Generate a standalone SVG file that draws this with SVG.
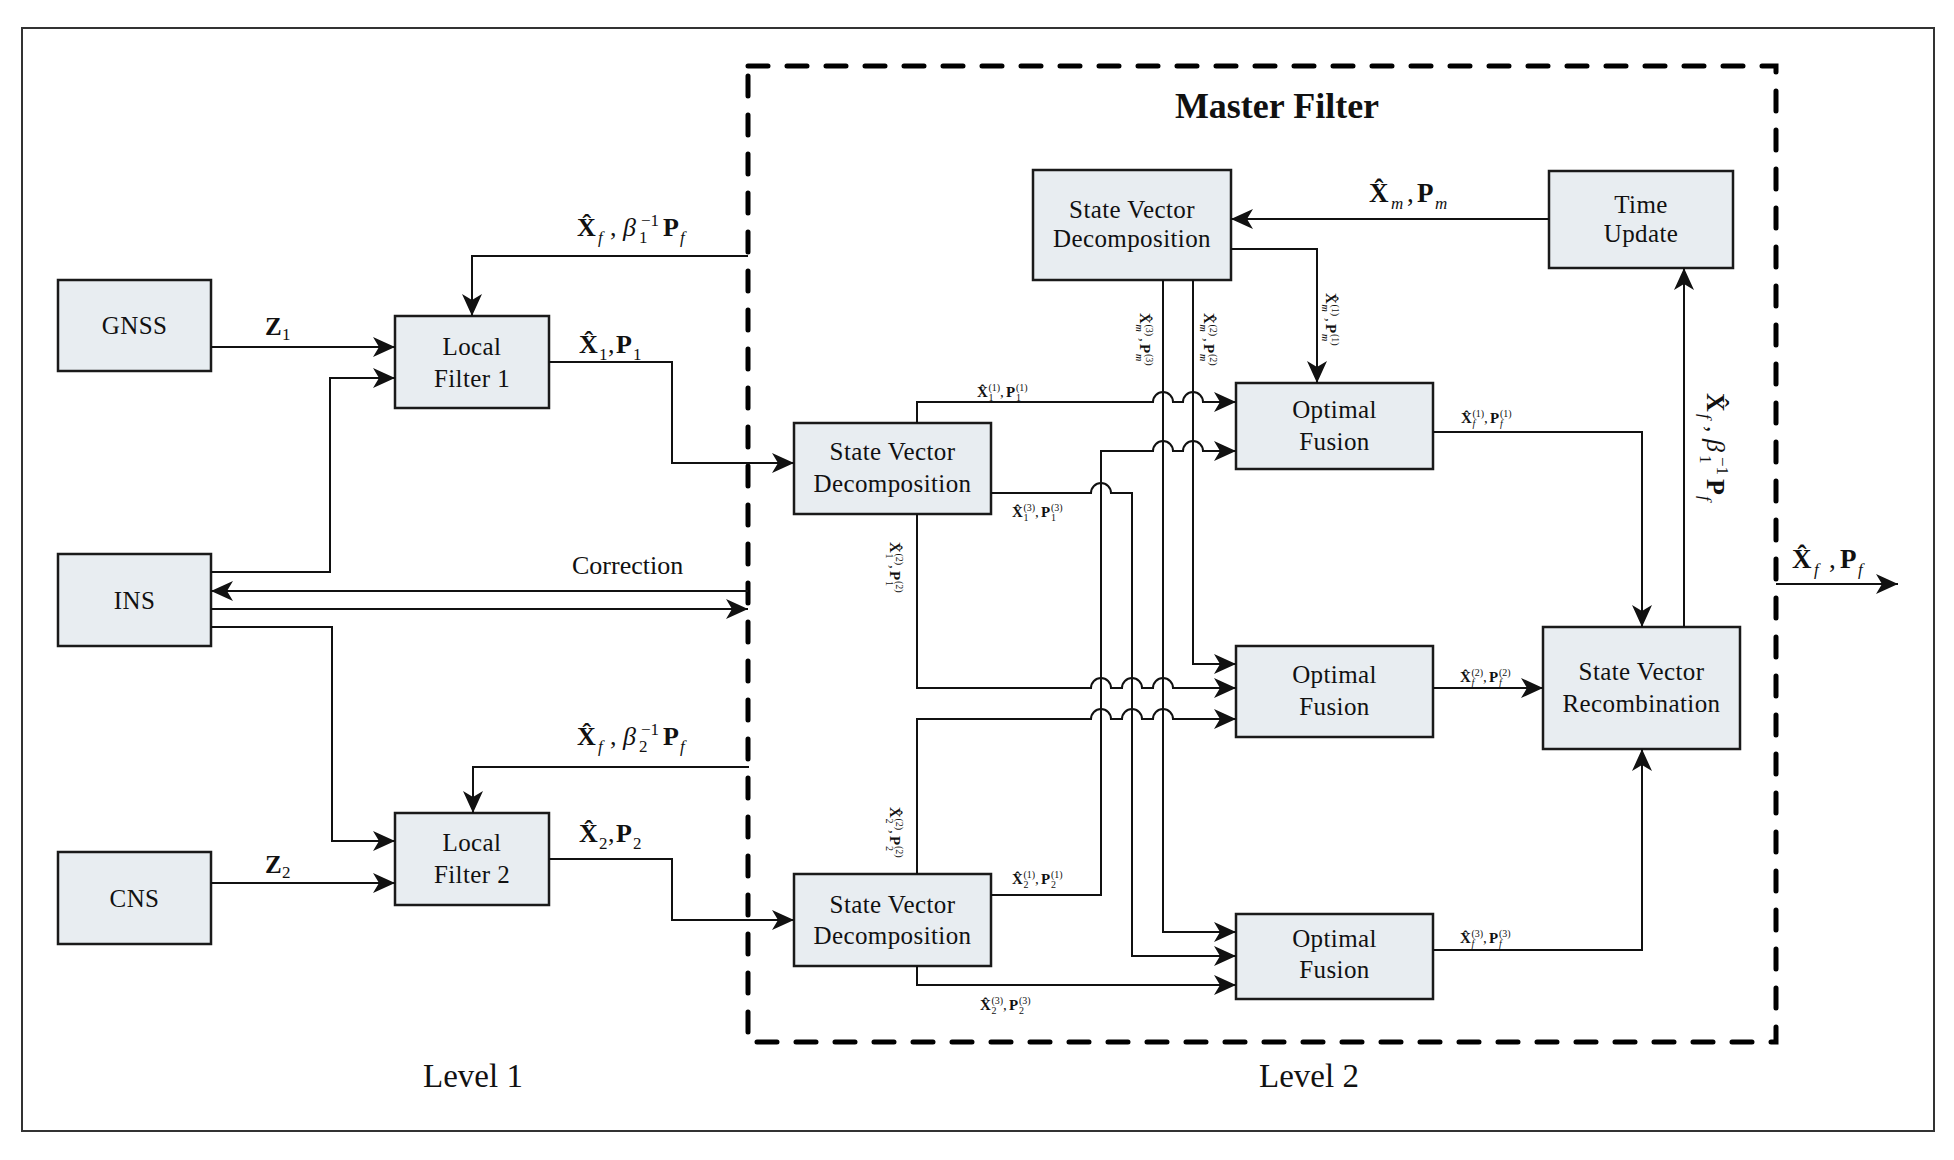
<svg xmlns="http://www.w3.org/2000/svg" width="1954" height="1160" viewBox="0 0 1954 1160">
<defs>
<style>
.box{fill:#E8EDF1;stroke:#1a1a1a;stroke-width:2.5}
.t{font-family:"Liberation Serif","Times New Roman",serif;font-size:25px;text-anchor:middle;fill:#111;letter-spacing:0.4px}
.m{font-family:"Liberation Serif","Times New Roman",serif;fill:#111}
.b{font-weight:bold}
.i{font-style:italic}
.ln{fill:none;stroke:#111;stroke-width:2}
.a{marker-end:url(#ah)}
.s17{font-size:17px}
.s10{font-size:10px}
</style>
<marker id="ah" markerUnits="userSpaceOnUse" markerWidth="24" markerHeight="24" viewBox="-23 -11 24 22" refX="0" refY="0" orient="auto">
<path d="M0,0 L-22,-10 L-16,0 L-22,10 Z" fill="#111"/>
</marker>
</defs>
<rect width="1954" height="1160" fill="#fff"/>
<rect id="frame" x="22" y="28" width="1912" height="1103" fill="none" stroke="#333" stroke-width="2"/>
<rect id="master" x="748" y="66" width="1028" height="976" fill="none" stroke="#000" stroke-width="5" stroke-dasharray="20 19" stroke-linecap="round"/>
<text class="m b" x="1277" y="118" font-size="36" text-anchor="middle">Master Filter</text>
<text class="m" x="473" y="1087" font-size="33" text-anchor="middle">Level 1</text>
<text class="m" x="1309" y="1087" font-size="33" text-anchor="middle">Level 2</text>

<g id="gnss"><rect class="box" x="58" y="280" width="153" height="91"/><text class="t" x="134.5" y="334">GNSS</text></g>
<g id="ins"><rect class="box" x="58" y="554" width="153" height="92"/><text class="t" x="134.5" y="609">INS</text></g>
<g id="cns"><rect class="box" x="58" y="852" width="153" height="92"/><text class="t" x="134.5" y="907">CNS</text></g>
<g id="lf1"><rect class="box" x="395" y="316" width="154" height="92"/><text class="t" x="472" y="355">Local</text><text class="t" x="472" y="387">Filter 1</text></g>
<g id="lf2"><rect class="box" x="395" y="813" width="154" height="92"/><text class="t" x="472" y="851">Local</text><text class="t" x="472" y="883">Filter 2</text></g>
<g id="svd1"><rect class="box" x="794" y="423" width="197" height="91"/><text class="t" x="892.5" y="460">State Vector</text><text class="t" x="892.5" y="492">Decomposition</text></g>
<g id="svdm"><rect class="box" x="1033" y="170" width="198" height="110"/><text class="t" x="1132" y="218">State Vector</text><text class="t" x="1132" y="247">Decomposition</text></g>
<g id="svd2"><rect class="box" x="794" y="874" width="197" height="92"/><text class="t" x="892.5" y="913">State Vector</text><text class="t" x="892.5" y="944">Decomposition</text></g>
<g id="tu"><rect class="box" x="1549" y="171" width="184" height="97"/><text class="t" x="1641" y="213">Time</text><text class="t" x="1641" y="242">Update</text></g>
<g id="of1"><rect class="box" x="1236" y="383" width="197" height="86"/><text class="t" x="1334.5" y="418">Optimal</text><text class="t" x="1334.5" y="450">Fusion</text></g>
<g id="of2"><rect class="box" x="1236" y="646" width="197" height="91"/><text class="t" x="1334.5" y="683">Optimal</text><text class="t" x="1334.5" y="715">Fusion</text></g>
<g id="of3"><rect class="box" x="1236" y="914" width="197" height="85"/><text class="t" x="1334.5" y="947">Optimal</text><text class="t" x="1334.5" y="978">Fusion</text></g>
<g id="svr"><rect class="box" x="1543" y="627" width="197" height="122"/><text class="t" x="1641.5" y="680">State Vector</text><text class="t" x="1641.5" y="712">Recombination</text></g>

<g id="connectors">
<path class="ln a" d="M211,347 H395"/>
<path class="ln a" d="M211,572 H330 V378 H395"/>
<path class="ln a" d="M748,256 H472 V316"/>
<path class="ln a" d="M549,362 H672 V463 H794"/>
<path class="ln a" d="M748,591 H211"/>
<path class="ln a" d="M211,609 H748"/>
<path class="ln a" d="M211,627 H332 V841 H395"/>
<path class="ln a" d="M211,883 H395"/>
<path class="ln a" d="M749,767 H473 V813"/>
<path class="ln a" d="M549,859 H672 V920 H794"/>
<path class="ln a" d="M1549,219 H1231"/>
<path class="ln a" d="M1231,249 H1317 V383"/>
<path class="ln a" d="M1163,280 V932 H1236"/>
<path class="ln a" d="M1193,280 V664 H1236"/>
<path class="ln a" d="M917,423 V402 H1153 A10,10 0 0 1 1173,402 H1183 A10,10 0 0 1 1203,402 H1236"/>
<path class="ln a" d="M991,895 H1101 V451 H1153 A10,10 0 0 1 1173,451 H1183 A10,10 0 0 1 1203,451 H1236"/>
<path class="ln a" d="M991,493 H1091 A10,10 0 0 1 1111,493 H1132 V956 H1236"/>
<path class="ln a" d="M917,514 V688 H1091 A10,10 0 0 1 1111,688 H1122 A10,10 0 0 1 1142,688 H1153 A10,10 0 0 1 1173,688 H1236"/>
<path class="ln a" d="M917,874 V719 H1091 A10,10 0 0 1 1111,719 H1122 A10,10 0 0 1 1142,719 H1153 A10,10 0 0 1 1173,719 H1236"/>
<path class="ln a" d="M917,966 V985 H1236"/>
<path class="ln a" d="M1433,432 H1642 V627"/>
<path class="ln a" d="M1433,688 H1543"/>
<path class="ln a" d="M1433,950 H1642 V749"/>
<path class="ln a" d="M1684,627 V268"/>
<path class="ln a" d="M1776,584 H1898"/>
</g>

<g id="labels">
<text class="m" x="572" y="574" font-size="26">Correction</text>
<text class="m" font-size="25" y="335"><tspan class="b" x="265">Z</tspan><tspan class="s17" x="282" y="340">1</tspan></text>
<text class="m" font-size="25" y="873"><tspan class="b" x="265">Z</tspan><tspan class="s17" x="282" y="878">2</tspan></text>

<g transform="translate(577,236)"><text class="m" font-size="26"><tspan class="b" x="0" y="0">X&#x302;</tspan><tspan class="i s17" x="21" y="7">f</tspan><tspan x="33" y="0">,</tspan><tspan class="i" x="46" y="0">β</tspan><tspan class="s17" x="62" y="7">1</tspan><tspan class="s17" x="64" y="-10">−1</tspan><tspan class="b" x="86" y="0">P</tspan><tspan class="i s17" x="103" y="7">f</tspan></text></g>
<g transform="translate(577,745)"><text class="m" font-size="26"><tspan class="b" x="0" y="0">X&#x302;</tspan><tspan class="i s17" x="21" y="7">f</tspan><tspan x="33" y="0">,</tspan><tspan class="i" x="46" y="0">β</tspan><tspan class="s17" x="62" y="7">2</tspan><tspan class="s17" x="64" y="-10">−1</tspan><tspan class="b" x="86" y="0">P</tspan><tspan class="i s17" x="103" y="7">f</tspan></text></g>
<g transform="translate(1707,393) rotate(90)"><text class="m" font-size="26"><tspan class="b" x="0" y="0">X&#x302;</tspan><tspan class="i s17" x="21" y="7">f</tspan><tspan x="33" y="0">,</tspan><tspan class="i" x="46" y="0">β</tspan><tspan class="s17" x="62" y="7">1</tspan><tspan class="s17" x="64" y="-10">−1</tspan><tspan class="b" x="86" y="0">P</tspan><tspan class="i s17" x="103" y="7">f</tspan></text></g>

<g transform="translate(579,353)"><text class="m" font-size="26"><tspan class="b" x="0" y="0">X&#x302;</tspan><tspan class="s17" x="20" y="7">1</tspan><tspan x="29" y="0">,</tspan><tspan class="b" x="37" y="0">P</tspan><tspan class="s17" x="54" y="7">1</tspan></text></g>
<g transform="translate(579,842)"><text class="m" font-size="26"><tspan class="b" x="0" y="0">X&#x302;</tspan><tspan class="s17" x="20" y="7">2</tspan><tspan x="29" y="0">,</tspan><tspan class="b" x="37" y="0">P</tspan><tspan class="s17" x="54" y="7">2</tspan></text></g>

<g transform="translate(1369,202)"><text class="m" font-size="27"><tspan class="b" x="0" y="0">X&#x302;</tspan><tspan class="i s17" x="22" y="7">m</tspan><tspan x="38" y="0">,</tspan><tspan class="b" x="48" y="0">P</tspan><tspan class="i s17" x="66" y="7">m</tspan></text></g>
<g transform="translate(1792,568)"><text class="m" font-size="27"><tspan class="b" x="0" y="0">X&#x302;</tspan><tspan class="i s17" x="22" y="7">f</tspan><tspan x="37" y="0">,</tspan><tspan class="b" x="48" y="0">P</tspan><tspan class="i s17" x="66" y="7">f</tspan></text></g>

<g transform="translate(977,397)"><text class="m" font-size="15"><tspan class="b" x="0" y="0">X&#x302;</tspan><tspan class="s10" x="11.5" y="4">1</tspan><tspan class="s10" x="11.5" y="-6">(1)</tspan><tspan x="23" y="0">,</tspan><tspan class="b" x="29" y="0">P</tspan><tspan class="s10" x="39" y="4">1</tspan><tspan class="s10" x="39" y="-6">(1)</tspan></text></g>
<g transform="translate(1012,517)"><text class="m" font-size="15"><tspan class="b" x="0" y="0">X&#x302;</tspan><tspan class="s10" x="11.5" y="4">1</tspan><tspan class="s10" x="11.5" y="-6">(3)</tspan><tspan x="23" y="0">,</tspan><tspan class="b" x="29" y="0">P</tspan><tspan class="s10" x="39" y="4">1</tspan><tspan class="s10" x="39" y="-6">(3)</tspan></text></g>
<g transform="translate(1012,884)"><text class="m" font-size="15"><tspan class="b" x="0" y="0">X&#x302;</tspan><tspan class="s10" x="11.5" y="4">2</tspan><tspan class="s10" x="11.5" y="-6">(1)</tspan><tspan x="23" y="0">,</tspan><tspan class="b" x="29" y="0">P</tspan><tspan class="s10" x="39" y="4">2</tspan><tspan class="s10" x="39" y="-6">(1)</tspan></text></g>
<g transform="translate(980,1010)"><text class="m" font-size="15"><tspan class="b" x="0" y="0">X&#x302;</tspan><tspan class="s10" x="11.5" y="4">2</tspan><tspan class="s10" x="11.5" y="-6">(3)</tspan><tspan x="23" y="0">,</tspan><tspan class="b" x="29" y="0">P</tspan><tspan class="s10" x="39" y="4">2</tspan><tspan class="s10" x="39" y="-6">(3)</tspan></text></g>
<g transform="translate(1461,423)"><text class="m" font-size="15"><tspan class="b" x="0" y="0">X&#x302;</tspan><tspan class="i s10" x="11.5" y="4">f</tspan><tspan class="s10" x="11.5" y="-6">(1)</tspan><tspan x="23" y="0">,</tspan><tspan class="b" x="29" y="0">P</tspan><tspan class="i s10" x="39" y="4">f</tspan><tspan class="s10" x="39" y="-6">(1)</tspan></text></g>
<g transform="translate(1460,682)"><text class="m" font-size="15"><tspan class="b" x="0" y="0">X&#x302;</tspan><tspan class="i s10" x="11.5" y="4">f</tspan><tspan class="s10" x="11.5" y="-6">(2)</tspan><tspan x="23" y="0">,</tspan><tspan class="b" x="29" y="0">P</tspan><tspan class="i s10" x="39" y="4">f</tspan><tspan class="s10" x="39" y="-6">(2)</tspan></text></g>
<g transform="translate(1460,943)"><text class="m" font-size="15"><tspan class="b" x="0" y="0">X&#x302;</tspan><tspan class="i s10" x="11.5" y="4">f</tspan><tspan class="s10" x="11.5" y="-6">(3)</tspan><tspan x="23" y="0">,</tspan><tspan class="b" x="29" y="0">P</tspan><tspan class="i s10" x="39" y="4">f</tspan><tspan class="s10" x="39" y="-6">(3)</tspan></text></g>

<g transform="translate(1326,293) rotate(90)"><text class="m" font-size="15"><tspan class="b" x="0" y="0">X&#x302;</tspan><tspan class="i s10" x="11.5" y="4">m</tspan><tspan class="s10" x="11.5" y="-6">(1)</tspan><tspan x="25" y="0">,</tspan><tspan class="b" x="31" y="0">P</tspan><tspan class="i s10" x="41" y="4">m</tspan><tspan class="s10" x="41" y="-6">(1)</tspan></text></g>
<g transform="translate(1140,313) rotate(90)"><text class="m" font-size="15"><tspan class="b" x="0" y="0">X&#x302;</tspan><tspan class="i s10" x="11.5" y="4">m</tspan><tspan class="s10" x="11.5" y="-6">(3)</tspan><tspan x="25" y="0">,</tspan><tspan class="b" x="31" y="0">P</tspan><tspan class="i s10" x="41" y="4">m</tspan><tspan class="s10" x="41" y="-6">(3)</tspan></text></g>
<g transform="translate(1204,313) rotate(90)"><text class="m" font-size="15"><tspan class="b" x="0" y="0">X&#x302;</tspan><tspan class="i s10" x="11.5" y="4">m</tspan><tspan class="s10" x="11.5" y="-6">(2)</tspan><tspan x="25" y="0">,</tspan><tspan class="b" x="31" y="0">P</tspan><tspan class="i s10" x="41" y="4">m</tspan><tspan class="s10" x="41" y="-6">(2)</tspan></text></g>
<g transform="translate(890,542) rotate(90)"><text class="m" font-size="15"><tspan class="b" x="0" y="0">X&#x302;</tspan><tspan class="s10" x="11.5" y="4">1</tspan><tspan class="s10" x="11.5" y="-6">(2)</tspan><tspan x="23" y="0">,</tspan><tspan class="b" x="29" y="0">P</tspan><tspan class="s10" x="39" y="4">1</tspan><tspan class="s10" x="39" y="-6">(2)</tspan></text></g>
<g transform="translate(890,807) rotate(90)"><text class="m" font-size="15"><tspan class="b" x="0" y="0">X&#x302;</tspan><tspan class="s10" x="11.5" y="4">2</tspan><tspan class="s10" x="11.5" y="-6">(2)</tspan><tspan x="23" y="0">,</tspan><tspan class="b" x="29" y="0">P</tspan><tspan class="s10" x="39" y="4">2</tspan><tspan class="s10" x="39" y="-6">(2)</tspan></text></g>
</g>
</svg>
